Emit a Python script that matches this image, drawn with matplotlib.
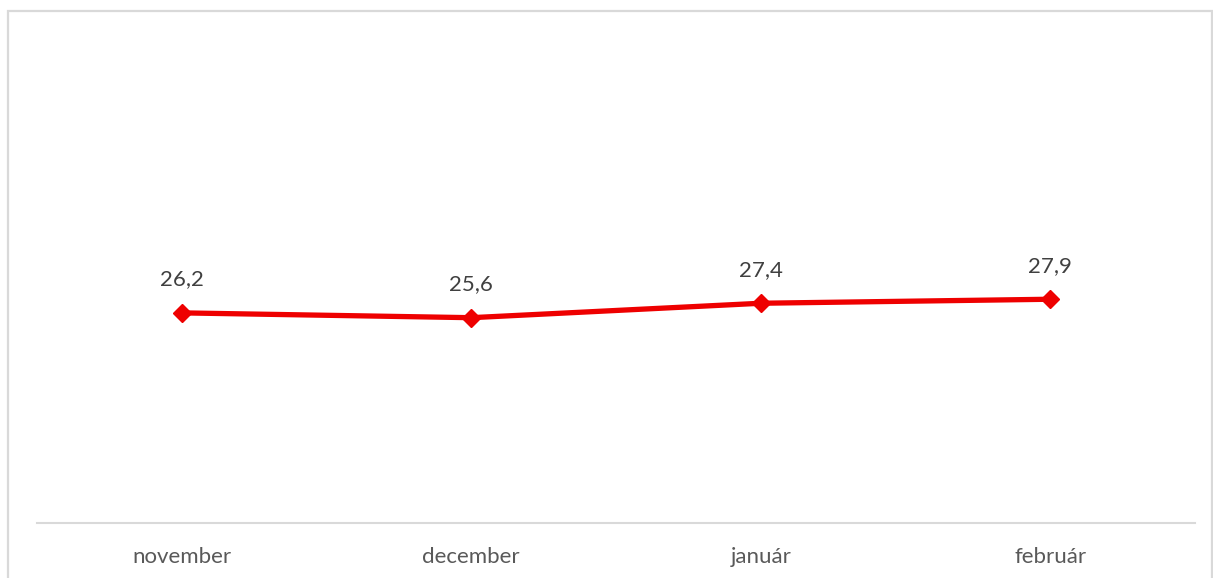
import matplotlib.pyplot as plt
from matplotlib.patches import Rectangle

months = ["november", "december", "január", "február"]
values = [26.2, 25.6, 27.4, 27.9]
labels = ["26,2", "25,6", "27,4", "27,9"]

plt.rcParams["font.family"] = ["Lato", "DejaVu Sans"]

W, H = 1213, 578
fig = plt.figure(figsize=(W / 100, H / 100), dpi=100)

# chart border (Excel-like chart area)
fig.patches.append(Rectangle((7.5 / W, -0.05), (1211.5 - 7.5) / W, 1 - 10.5 / H + 0.05,
                             transform=fig.transFigure, fill=False,
                             edgecolor="#d9d9d9", linewidth=1.6))

left, right = 37 / W, 1195 / W
bottom, top = (H - 523) / H, (H - 41.8) / H
ax = fig.add_axes([left, bottom, right - left, top - bottom])

x = list(range(len(months)))
ax.plot(x, values, color="#ee0000", linewidth=3.8, marker="D", markersize=9,
        solid_capstyle="round")

for xi, v, lab in zip(x, values, labels):
    ax.annotate(lab, (xi, v), xytext=(0, 17), textcoords="offset points",
                ha="center", va="bottom", fontsize=16, color="#404040")

ax.set_xlim(-0.5, 3.5)
ax.set_ylim(0, 60)
ax.set_xticks(x)
ax.set_xticklabels(months, fontsize=16, color="#595959")
ax.tick_params(axis="x", length=0, pad=17)
ax.set_yticks([])
for s in ["top", "left", "right"]:
    ax.spines[s].set_visible(False)
ax.spines["bottom"].set_color("#d9d9d9")
ax.spines["bottom"].set_linewidth(1.5)

fig.savefig("out.png", dpi=100)
